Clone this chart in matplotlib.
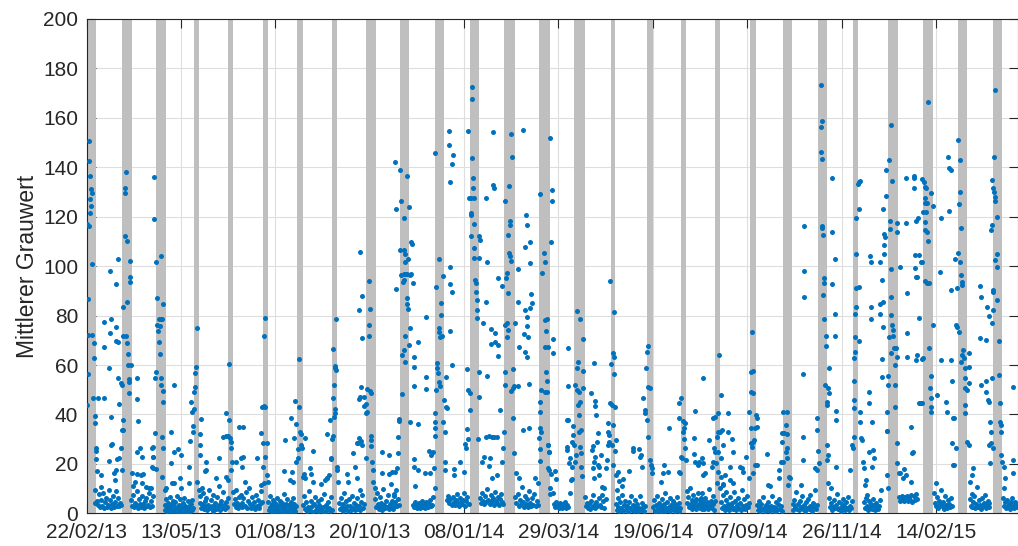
import numpy as np
import matplotlib
matplotlib.use("Agg")
import matplotlib.pyplot as plt

plt.rcParams['font.family'] = ['Liberation Sans', 'DejaVu Sans']
plt.rcParams['font.size'] = 15

# x in days since 22/02/13
tick_days = [0, 80, 160, 240, 320, 400, 480, 560, 640, 720]
tick_labels = ['22/02/13', '13/05/13', '01/08/13', '20/10/13', '08/01/14',
               '29/03/14', '19/06/14', '07/09/14', '26/11/14', '14/02/15']

# shaded periods (start day, end day)
bands = [(-1, 8.3), (30.3, 38.3), (59.2, 67.1), (91.1, 95.3), (119.9, 124.2),
         (149.6, 153.6), (178.4, 183.2), (208.3, 212.5), (236.9, 245.1),
         (265.4, 273.3), (295.3, 303.2), (324.7, 332.9), (354.1, 362.9),
         (383.7, 392.8), (413.4, 422.7), (444.2, 448.1), (475.0, 479.8),
         (503.8, 508.1), (532.6, 537.1), (562.3, 567.1), (590.3, 598.1),
         (619.7, 627.8), (649.3, 653.8), (679.5, 687.5), (708.6, 717.1),
         (738.3, 746.4), (768.2, 776.1)]

# (day, mean grey value)
seg_a = [(1.8,150.8),(1.8,142.7),(3.0,136.5),(4.1,131.1),(4.3,129.5),(3.2,127),(4.1,124.5),(3.2,121.6),
         (0.7,117),(2.4,116.4),(4.9,101),(1.3,86.6),(1.3,72.1),(4.9,72.1),(6.1,69),(6.1,62.7),(1.3,56.4),
         (0.1,43.8),(5.8,46.5),(9.7,46.5),(14.8,46.5),(7.5,39.4),(7.2,36.7),(8.3,26.3),(7.8,25.2),(7.8,22),
         (9.2,17.3),(12,15.5),(19.9,98),(27,102.8),(24.7,92.6),(14.8,77.5),(20.5,78.5),(19.9,73),(25.3,75.4),
         (25.3,69.9),(27,69.5),(15.1,67.3),(19.1,58.8),(27,54.6),(29.8,51.9),(29,52.6),(27.8,44.1),(21,39.1),
         (30.6,33.7),(21,27.6),(21.3,27.9),(29,26.3),(19.1,21.2),(26.1,21.8),(27.5,22.3),(24.7,17.5),
         (23.9,13.5),(23.3,16.2),(30.4,17.5),(33.2,138.1),(32.3,131.8),(32.9,129.7),(32.9,112.3),(34.3,110),
         (37.2,102.2),(36.9,95.7),(37.2,93.7),(34,85.4),(30.9,83.6),(31.2,71.7),(33.5,71.9),(34.3,69),
         (35.2,64.6),(35.2,59.9),(37.7,59.9),(36,54.2),(36.3,53.3),(35.7,48.6),(31.2,37.8),(29.8,33.7),
         (38.3,16.5),(43.1,54.8),(43.1,46.1),(44,37.5),(43.1,25),(45.1,26.3),(47.3,22.9),(43.1,15.9),
         (45.9,15.5),(48.2,15.8),(41.1,12.8),(47.3,12.1),(53,10.1),(55.8,26.3),(56.4,22.9),(55.8,18.6),
         (54.4,10.1),(56.9,135.9),(56.9,119.1),(58.9,101.8),(63.4,104.1),(60,87),(64.8,84.6),(60,76.2),
         (61.4,78.6),(62.9,78.6),(64.3,78.6),(60.6,73.9),(62,75.8),(61.4,69.5),(62.3,64.6),(58.9,57.3),
         (57.8,54.6),(62.9,54.6),(63.4,51.9),(64.8,49.5),(65.1,44.9),(58,32.5),(64.3,30.9),(64.5,26.3),
         (56.6,27),(56.4,22.7),(64,14.8),(56.6,18.5),(58.6,17.9),(71.9,32.8),(74.1,51.9),(74.1,25),
         (77.8,25.9),(80.1,23.6),(71.3,20.2),(87.4,29.4),(87.1,18.9),(72.7,12.1),(74,12.4),(79,14.2),
         (80.4,10.1),(86.9,12.1),(67.1,10.1),(66.5,9.4),(93.4,75.1),(92.5,59.1),(92.2,56.9),(91.7,51),
         (91.1,49.2),(88.8,45.2),(89.1,40.9),(91.1,42.1),(90.3,35.5),(90.3,33),(97.3,38.2),(96.5,32.1),
         (95.9,27.6),(96.2,23.6),(93.9,12.8),(95.3,9.4),(98.2,10.1),(101,20.9),(100.4,17.3),(101.6,17.5),
         (109.5,14.2),(112.3,22.3),(121.1,60.4),(117.9,40.5),(121.1,37.8),(116,31),(117.9,31.4),(119.9,31.4),
         (121.3,30.3),(122.2,29),(122.2,26.3),(123.6,20.9),(122.2,17.5),(118.5,14.8),(120.2,13.5),(127,20.9),
         (130.7,22.3),(129.2,35),
         (7.5,9.5),(8.5,5.0),(9.8,3.2),(10.5,7.8),(11.2,2.4),(12.4,5.5),(13.0,3.0),(14.1,8.2),(14.9,2.2),
         (15.8,4.4),(16.8,6.0),(17.5,2.6),(18.3,3.4),(19.6,5.2),(20.4,2.1),(21.5,3.8),(22.3,7.2),(23.1,2.5),
         (24.2,4.6),(25.0,9.0),(25.8,3.1),(26.9,6.3),(27.6,2.8),(28.3,4.1),(29.2,3.3),(11.9,10.8),(18.8,9.6),
         (6.8,4.0),(37.5,5.2),(38.4,3.0),(39.2,7.6),(40.0,2.4),(40.9,4.3),(41.8,3.3),(42.5,9.1),(43.6,2.2),
         (44.3,5.8),(45.2,3.6),(46.0,2.5),(46.8,7.0),(47.7,3.9),(48.5,2.1),(49.4,4.8),(50.2,6.2),(51.0,2.8),
         (51.9,3.5),(52.8,8.3),(53.6,2.4),(54.5,4.9),(55.5,3.1),(56.2,6.8),(39.8,11.0),(50.6,10.5),
         (66.2,3.5),(66.8,1.2),(67.5,5.8),(68.0,2.4),(68.6,0.6),(69.1,4.0),(69.8,1.6),(70.4,6.5),(70.9,2.9),
         (71.5,0.9),(72.1,3.6),(72.8,1.8),(73.3,5.1),(73.9,0.8),(74.6,2.6),(75.2,4.4),(75.8,1.3),(76.5,7.2),
         (77.0,2.1),(77.6,0.5),(78.3,3.3),(78.9,5.6),(79.5,1.5),(80.2,2.8),(80.8,0.7),(81.4,4.2),(82.1,1.9),
         (82.7,6.0),(83.3,1.0),(83.9,3.1),(84.6,2.2),(85.2,0.6),(85.8,4.8),(86.5,1.7),(87.1,2.9),(87.8,0.9),
         (88.4,3.8),(89.0,1.4),(89.7,5.3),(90.3,2.0),(95.8,4.2),(96.5,6.9),(97.1,2.3),(97.8,3.6),(98.6,8.1),
         (99.3,1.6),(100.1,4.9),(100.8,2.9),(101.6,6.2),(102.3,1.3),(103.1,3.4),(103.8,9.6),(104.5,2.0),
         (105.3,5.4),(106.0,3.0),(106.8,1.1),(107.5,7.3),(108.2,2.5),(109.0,4.1),(109.8,1.8),(110.5,6.4),
         (111.3,2.8),(112.0,11.0),(112.8,3.6),(113.5,1.4),(114.3,5.0),(115.0,2.2),(115.8,8.7),(116.6,3.2),
         (117.3,1.7),(118.1,4.5),(118.9,2.6),(119.6,6.1),(124.0,8.5),(124.8,3.8),(125.5,5.9),(126.3,2.6),
         (127.1,9.6),(127.9,4.1),(128.6,2.1),(129.4,6.6),(130.2,3.3),(131.0,7.4),(131.8,2.7)]

seg_b = [(132.6,22.9),(132.1,18.9),(132.9,34.9),(134,12.8),(144.8,22.3),(148.2,32.4),(149.3,28.3),(149,43.2),
         (150.7,43.6),(151.6,43.2),(150.2,71.9),(151.6,78.9),(153.3,28.6),(149.6,18.9),(151.6,22.9),
         (152.7,15.5),(153.8,12.8),(148.2,11.5),(150.4,12.1),(167.4,17.3),(168.2,29.7),(173,38.4),(177,45.6),
         (175.9,30.6),(177.8,36),(180.1,43.2),(180.4,62.4),(181.2,33),(181.5,32),(179.2,26),(181.5,27.6),
         (182.6,26.3),(185.5,30.3),(177.8,20.9),(179.2,22.3),(183.5,14.8),(184.9,14.2),(184.3,15.8),
         (174.2,16.9),(172.8,13.5),(175,12.8),(192.2,25.2),(189.1,18.2),(190.5,15.8),(192,12.8),(199,11.7),
         (202.4,13.5),(203.5,14.2),(203.8,32.1),(206.1,37.8),(208.3,30.1),(208.9,31.2),(206.9,21.8),
         (207.3,22.3),(204.1,14.2),(205.2,15.5),(209.2,46.5),(209.5,51.9),(210.3,59.7),(210.9,58.7),
         (211.2,57.9),(209.2,66.4),(211.2,78.5),(210.3,42.2),(210.3,40.5),(210,39.1),(212,18.6),(212.3,17.5),
         (213.1,12.8),(220.8,15.8),(221.6,12.8),(225.9,24.3),(227.3,18.9),(229.2,28.5),(229.5,14.2),
         (230.4,28.3),(232.4,29.3),(231.2,30.6),(230.9,46.1),(231.5,47.2),(232.4,51),(235.2,47.2),
         (234.9,43.4),(236.6,44.1),(233.5,27.6),(230.9,82.3),(233.5,87.9),(233.2,70.8),(232.1,105.6),
         (239.4,94.1),(240.5,82.7),(239.4,76.1),(239.4,71.9),(238,50.2),(240,49.5),(240.8,48.8),(237.2,40.5),
         (238,41.1),(241.4,31.3),(241.4,29.7),(240.8,27.2),(237.2,22.3),(242,20.9),(242.5,17.5),(242.8,12.8),
         (244.2,10.1),(250.4,25),(256.4,23.6),(250.7,16.2),(256.1,15.8),(259.2,16.9),
         (133.0,6.0),(134.5,3.1),(135.3,8.8),(136.1,2.3),(136.9,4.9),(137.8,10.4),(138.5,3.6),(139.4,2.0),
         (140.2,6.4),(141.0,3.0),(141.8,4.6),(142.6,1.6),(143.5,7.6),(144.3,2.8),(145.1,5.2),(146.0,2.1),
         (146.8,3.8),(147.6,9.2),(148.6,4.4),(131.4,4.0),(154.0,4.6),(154.6,1.5),(155.2,7.2),(155.8,2.6),
         (156.4,0.8),(157.0,3.9),(157.6,1.9),(158.2,5.5),(158.8,0.6),(159.4,2.9),(160.0,4.3),(160.6,1.2),
         (161.2,6.3),(161.8,2.2),(162.4,0.9),(163.0,3.4),(163.6,5.0),(164.2,1.6),(164.8,2.7),(165.4,0.5),
         (166.0,4.1),(166.6,1.8),(167.2,7.9),(167.8,2.4),(168.4,0.7),(169.0,3.7),(169.6,1.4),(170.2,5.8),
         (170.8,2.1),(171.4,0.9),(172.0,3.2),(172.6,1.5),(173.2,4.7),(173.8,2.5),(174.4,0.8),(175.0,6.1),
         (175.6,1.9),(176.2,3.6),(176.8,1.1),(177.4,2.8),(183.8,3.2),(184.6,7.0),(185.4,1.8),(186.2,4.4),
         (187.0,0.9),(187.8,2.6),(188.6,9.0),(189.4,1.5),(190.2,5.1),(191.0,2.9),(191.8,0.7),(192.6,3.8),
         (193.4,6.4),(194.2,1.3),(195.0,2.4),(195.8,4.9),(196.6,0.8),(197.4,3.2),(198.2,1.9),(199.0,5.7),
         (199.8,1.1),(200.6,2.7),(201.4,7.8),(202.2,0.6),(203.0,3.5),(203.8,1.7),(204.6,4.6),(205.4,2.2),
         (206.2,0.9),(207.0,6.7),(207.8,1.4),(213.8,4.0),(214.6,1.6),(215.4,6.2),(216.2,2.5),(217.0,0.9),
         (217.8,3.7),(218.6,8.4),(219.4,1.9),(220.2,4.8),(221.0,2.8),(221.8,1.0),(222.6,5.9),(223.4,3.1),
         (224.2,1.5),(225.0,7.0),(225.8,2.2),(226.6,4.2),(227.4,1.2),(228.2,3.4),(229.0,6.0),(229.8,1.8),
         (230.6,2.9),(231.4,9.3),(232.2,1.4),(233.0,4.5),(233.8,7.4),(234.6,2.0),(235.4,3.6),(244.8,5.6),
         (245.5,2.4),(246.3,8.3),(247.0,3.6),(247.8,1.8),(248.5,6.4),(249.3,2.9),(250.0,4.2),(250.8,1.5),
         (251.6,9.9),(252.3,3.3),(253.1,2.0),(253.8,5.1),(254.6,2.6),(255.4,7.6),(256.1,1.7),(256.9,3.9),
         (257.7,11.8),(258.4,2.3),(259.2,4.8),(260.0,1.9),(260.8,6.9),(261.5,3.0)]

seg_c = [(261.7,142.3),(262.3,123.1),(262.3,90.8),(266,138.8),(266.2,126.4),(268.8,119.6),(271.9,136.6),
         (273,123.8),(266,106.5),(268.8,106.5),(269.9,104.9),(272.5,102.8),(275.3,109.9),(276.1,109.1),
         (269.6,101.8),(266.4,96.4),(268.8,96.8),(270.2,96.8),(271.6,97),(274.4,96.4),(275.3,96.7),(276.4,93.1),
         (268,93.7),(269.4,94.4),(271.3,87),(271.9,84.7),(272.5,82.7),(274.4,75.1),(270.2,71.7),(273,68.1),
         (269.4,66.1),(269.6,61.4),(267.7,64.1),(280.9,69.2),(277.3,63.1),(277.5,59.3),(277.8,51.5),
         (287.7,79.6),(288,55.3),(288,50.3),(267.4,48.1),(264.8,38.2),(265.1,37.5),(263.7,30.7),(264,24.4),
         (263.1,18.2),(261.2,16.9),(274.4,36.8),(280.9,36),(277.8,22),(277.3,18.9),(280.9,17.5),(278.7,11.2),
         (287.1,16.2),(291.4,16.2),(294.2,18.2),(290.5,25.2),(292.2,23.6),(293.4,24.7),(295.1,40.5),
         (295.1,37.1),(295.1,34.4),(295.1,31.3),(295.6,145.6),(295.9,91.6),(296.5,49.9),(297,60.7),
         (297.3,58.7),(297.9,56.6),(298.5,53.3),(299.9,51.7),(298.7,102.8),(298.5,73.5),(299,74.8),
         (299.9,71.5),(301.3,71.9),(300.7,85),(300.7,80.2),(301.8,96),(295.1,10.1),(303.2,45.9),(304.4,43.2),
         (305.5,42.5),(302.1,37.1),(303.5,33),(304.1,20.9),(304.1,17.5),(304.7,55),(306.9,149),(307.2,154.8),
         (307.8,134.2),(310.6,145),(309.7,141.2),(308.3,99.8),(307.8,92.6),(310,89.7),(308.1,73.9),(310,60),
         (311.2,17.8),(311.2,15.5),(316.8,20.9),(319.6,16.9),(323.6,154.7),(326.7,172.4),(327,167.8),
         (327,143.8),(327.8,135.7),(327.8,131.8),(328.4,127.6),(323.9,127.4),(326.1,127.6),(325.8,121.4),
         (325.8,120.6),(328.4,117.1),(325.8,112.2),(328.7,107.5),(332.9,112.2),(333.2,110.6),(328.7,103.2),
         (332.3,103.4),(329.5,94.4),(329.8,93.1),(329.8,89.4),(331,86.2),(331,82.4),(331.2,78.9),(322.2,58.3),
         (323.6,49.9),(325.3,48.6),(325,41.8),(332.3,57),(332.3,46.9),(322.2,34),(323.3,30.1),(332.1,30.1),
         (320.8,27.9),(321.6,26.6),(339.7,55.6),(336,76.9),(338.8,85.4),(338.3,127.7),(344.5,154.4),
         (344.8,132.8),(345.1,131.8),(339.4,101.8),(342.8,74.4),(346.5,72.8),(346.5,69.5),(348.4,68.1),
         (348.7,63.6),(342.5,68.6),(348.7,95.3),(352.1,92.1),(350.7,41.8),(345.1,31),(347.9,31),(338.8,31),
         (340.8,31.2),(343.6,30.8),(336.6,22.9),(335.2,20.9),(341.7,22.3),(341.4,19.3),(348.2,15.5),
         (343.6,14.2),(352.7,26.3),(352.1,20.9),(353.5,33),(360,153.5),(360.3,144.3),(357.8,132.6),
         (354.4,126.5),(359.2,118.4),(358.6,116.5),(356.9,112.5),(357.8,105.5),(359.2,104.2),(359.7,102.1),
         (356.4,97.4),(355.8,95.1),(357.2,89),(355,76.2),(356.4,76.9),(356.9,74.2),(356.4,71.2),(361.2,58.3),
         (355,57.3),(354.4,51.9),(360,49.6),(361.5,50.6),(362.6,51.5),(365.4,51.7),(361.2,38.7),(362.6,24.3),
         (364,16.5),(366.2,14.2),(369.9,155.1),(365.7,98.9),(365.4,85.6),(363.1,77),(366.2,67.4),(371.9,65.4),
         (373,63.4),(369.6,33.7),(374.7,34.4),(374.7,52.2),(371,72.6),(373.3,75.9),(374.2,71.5),(371.3,82.3),
         (373,79.3),(377,88.6),(372.2,120.7),(373.3,116.7),(376.1,109.9),(371.9,107.8),(375.9,101.3),
         (376.1,82.9),(377.5,85),(384,129.1),(392.8,152),(387.4,105.2),(388.3,101.5),(386,97.1),(388.3,78.1),
         (388.8,67.4),(385.2,49.9),(388.8,49.2),(384.6,45.2),(384,40.9),(384,34.4),(385.5,33),(383.2,30.3),
         (384,26),(384.6,21.3),(382.3,12.1),(380.4,14.2),(391.4,27.6),(391.7,25),(391.1,18.2),
         (276.5,3.4),(277.3,2.5),(278.1,4.6),(278.9,3.0),(279.7,2.2),(280.5,3.8),(281.3,2.7),(282.1,4.1),
         (282.9,2.3),(283.7,3.2),(284.5,4.8),(285.3,2.6),(286.1,3.5),(286.9,2.1),(287.7,4.4),(288.5,3.0),
         (289.3,2.4),(290.1,3.7),(290.9,5.3),(291.7,2.8),(292.5,3.4),(293.3,6.4),(305.8,5.2),(306.7,7.0),
         (307.6,4.1),(308.5,5.9),(309.4,3.5),(310.3,6.6),(311.2,4.6),(312.1,3.3),(313.0,5.5),(313.9,7.7),
         (314.8,4.0),(315.7,2.8),(316.6,6.1),(317.5,4.4),(318.4,3.6),(319.3,5.2),(320.2,8.1),(321.1,3.1),
         (322.0,4.8),(322.9,6.5),(323.8,3.9),(333.5,6.1),(334.4,4.2),(335.3,8.3),(336.2,5.0),(337.1,3.8),
         (338.0,6.9),(338.9,4.6),(339.8,9.8),(340.7,5.5),(341.6,3.6),(342.5,7.4),(343.4,4.8),(344.3,6.2),
         (345.2,3.4),(346.1,8.8),(347.0,5.1),(347.9,4.0),(348.8,6.7),(349.7,3.2),(350.6,5.9),(351.5,7.8),
         (352.4,4.5),(353.3,3.7),(363.5,6.6),(364.4,4.1),(365.3,8.0),(366.2,2.9),(367.1,5.3),(368.0,3.6),
         (368.9,10.5),(369.8,4.5),(370.7,2.4),(371.6,7.1),(372.5,3.9),(373.4,5.6),(374.3,2.7),(375.2,9.0),
         (376.1,4.2),(377.0,3.0),(377.9,6.2),(378.8,3.5),(379.7,7.9),(380.6,2.8),(381.5,4.9),(382.4,3.4),
         (259.8,3.6),(260.6,7.9),(261.4,4.4),(262.2,9.5),(263.0,2.8),(263.8,5.6),(264.6,3.2)]

seg_d = [(394.5,131),(394.2,126.4),(393.9,109.9),(390,78.6),(389.4,73.8),(390.8,67.2),(395.1,70.7),
         (395.1,64.7),(389.4,57.3),(390,53.7),(390.2,49.2),(390.8,27.6),(392.2,25),(391.7,17.5),(393.6,15.8),
         (397.3,17.3),(397.9,13.9),(392.8,10.1),(392.8,7.7),(395.1,8.1),(407.8,67),(408,51.7),(406.9,37.8),
         (408.3,37.8),(406.9,27),(406.9,25.6),(409.7,22.3),(409.2,20.2),(411.4,18.6),(411.4,29),(412,35.3),
         (412.6,31.7),(409.7,8.4),(410.6,13.5),(411.4,13.8),(413.4,27.6),(414.3,51.9),(415.4,49.9),(415.9,82),
         (417.9,78.6),(416.2,61.4),(415.4,58.7),(417.6,49.2),(418.5,45.2),(417.1,39.8),(416.8,43.8),(417.4,33),
         (419.3,33.7),(418.5,27),(419.1,24.3),(414.3,20.9),(414.8,23.6),(419.1,18.9),(419.9,15.1),(421,70.5),
         (420.5,57.7),(421,50.6),(427.8,48.6),(430.9,45.6),(431.2,43.6),(432.1,39.8),(430.1,61),(429,27.4),
         (428.1,25.6),(433.2,32.4),(432.6,29),(429,18.2),(430.4,20.9),(433.2,19.6),(431.2,22.9),(429,7.4),
         (430.4,14.2),(434,18.6),(434.6,15.5),(436,23.6),(436.9,10.8),(436.9,7.4),(438.8,10.1),(440.2,18.2),
         (440.8,21.6),(442.2,36.4),(441.7,33),(443.1,31.7),(442.8,29),(443.9,94.1),(446.7,81.6),(444.5,60.3),
         (446.5,64.7),(446.7,63.2),(447.3,56.2),(443.6,44.5),(445.3,43.8),(447.9,43.2),(445.9,35.7),
         (445.3,27.6),(448.4,29.7),(447.6,25.2),(441.9,27.6),(445.9,19.6),(448.7,15.5),(450.1,16.6),
         (451.5,13.1),(449.6,9.4),(454.9,13.9),(453.5,11.1),(460,17.1),(463.4,26.3),(462.8,25.2),(468.5,26),
         (469.9,23.6),(469.1,22.9),(470.8,18.9),(471.9,46.5),(473,41.8),(473.6,40.7),(475,37.8),(474.1,58.9),
         (475,65.4),(475.6,67.8),(475.6,51.2),(475.6,31),(477.2,50.6),(478.4,19.6),(479.2,18.2),(477.8,21.6),
         (479.2,16.2),(486.9,12.8),(488.3,16.2),(489.7,19.6),(493.1,16.9),(493.4,34.7),(501.8,44.8),
         (503.8,46.8),(502.4,38.4),(505.8,37.4),(507.5,36.4),(506.1,34.4),(505.2,33),(506.6,29.9),(507.5,26.3),
         (503.8,22.9),(504.7,22.3),(508,21.6),(502.4,16.9),(503.2,16.2),(515.7,41.5),(514.5,30.3),(515.1,23.9),
         (515.9,20.9),(517.9,19.6),(518.8,20.9),(522.4,54.9),
         (396.2,3.6),(397.0,2.4),(397.8,4.4),(398.6,2.8),(399.4,3.3),(400.2,2.2),(401.0,4.0),(401.8,2.6),
         (402.6,3.1),(403.4,2.0),(404.2,3.7),(405.0,2.9),(405.8,4.6),(406.6,2.3),(407.4,3.4),(408.2,2.7),
         (422.8,6.4),(423.6,2.8),(424.4,4.3),(425.2,2.1),(426.0,3.6),(426.8,1.7),(427.6,5.1),(428.4,2.5),
         (429.8,3.2),(431.0,2.0),(432.0,4.6),(433.0,2.9),(434.0,6.0),(435.0,3.3),(436.0,2.4),(437.8,4.8),
         (439.0,2.2),(440.0,5.6),(448.5,3.8),(449.3,1.4),(450.1,6.0),(450.9,2.4),(451.7,0.8),(452.5,4.4),
         (453.3,2.0),(454.1,7.6),(454.9,1.1),(455.7,3.2),(456.5,5.1),(457.3,1.6),(458.1,2.8),(458.9,0.7),
         (459.7,4.6),(460.5,2.2),(461.3,6.8),(462.1,1.3),(462.9,3.5),(463.7,0.9),(464.5,2.6),(465.3,5.4),
         (466.1,1.8),(466.9,3.9),(467.7,0.8),(468.5,2.3),(469.3,7.2),(470.1,1.5),(470.9,4.0),(471.7,2.4),
         (472.5,1.0),(473.3,3.0),(480.2,2.5),(480.9,5.3),(481.6,1.1),(482.3,3.4),(483.0,0.7),(483.7,7.0),
         (484.4,2.0),(485.1,4.2),(485.8,1.4),(486.5,2.9),(487.2,0.6),(487.9,5.8),(488.6,1.8),(489.3,3.6),
         (490.0,1.0),(490.7,8.2),(491.4,2.3),(492.1,4.6),(492.8,1.2),(493.5,2.7),(494.2,6.3),(494.9,0.8),
         (495.6,3.3),(496.3,1.6),(497.0,4.9),(497.7,2.1),(498.4,0.9),(499.1,3.8),(499.8,1.5),(500.5,6.6),
         (501.2,2.6),(501.9,1.1),(502.6,4.1),(503.3,2.0),(508.6,8.9),(509.3,4.2),(510.0,6.6),(510.7,2.6),
         (511.4,10.4),(512.1,3.6),(512.8,5.4),(513.5,1.9),(514.2,7.3),(514.9,3.0),(515.6,4.5),(516.3,1.6),
         (517.0,5.9),(517.7,2.9),(518.4,8.1),(519.1,3.8),(519.8,2.2),(520.5,6.0),(521.2,3.4),(521.9,1.8),
         (522.6,4.7)]

seg_e = [(521.3,22.3),(522.7,20.2),(522.2,15.5),(524.1,16.2),(527.8,29.7),(530.6,20.6),(529.8,18.9),
         (531.2,38.4),(532.6,39.1),(532,26.3),(532.6,25),(535.4,40.5),(536.3,64.1),(537.7,47.9),(534.9,33),
         (536.9,33),(538.3,33.7),(534,31),(535.4,25),(537.4,22.3),(539.1,27.6),(533.5,20.2),(534,12.1),
         (535.4,16.9),(537.4,14.8),(539.1,11.5),(536.9,10.1),(543.9,40.5),(543.9,33),(547.3,29.9),(548.1,24.7),
         (545.3,18.6),(539.7,11.7),(541.1,15.5),(542,8.8),(545.3,13.5),(548.1,12.1),(553.8,18.9),(555.2,18.2),
         (556.6,16.9),(558.9,22.9),(561.4,41.1),(563.1,49.2),(565.1,48.6),(563.1,57),(565.1,57.6),(564.3,73.5),
         (562.8,34.4),(566.5,34.4),(567.9,35),(567.1,39.8),(568.5,38.4),(562.8,28.3),(565.1,29),(563.7,27),
         (565.9,29.7),(566.5,19.6),(567.9,19.6),(565.1,16.2),(561.7,14.2),(577,23.9),(577.8,11.5),(579.2,11.1),
         (586.6,17.5),(587.1,14.2),(589.1,29),(588.5,20.9),(590.5,20.9),(589.9,32.6),(591.4,32.4),(590.5,40.9),
         (593.9,40.9),(592.8,35.7),(593.9,32.1),(593.9,26.3),(592.5,25),(593.9,22.3),(595.6,14.8),(596.2,14.2),
         (594.8,11.5),(606.9,30.7),(606.9,21.6),(606,11.5),(608,116.4),(608.3,98),(608.3,87.5),(607.5,56.4),
         (618.8,38.7),(619.3,33.7),(620.2,25.2),(621,20.2),(617.4,18.2),(619.3,17.5),(622.4,173.3),
         (623.6,158.7),(622.4,156.2),(622.4,146.3),(623.6,143.4),(623,116.4),(623.8,115.6),(624.4,112.6),
         (625.3,95.3),(625.3,93.1),(624.4,88.3),(624.9,78.6),(626.4,71.9),(626.4,67.8),(629.2,58.7),
         (625.8,51.9),(628.6,50.8),(629.2,48.6),(627.2,45.2),(627.5,43.8),(632.1,135.8),(632.1,113.7),
         (632.1,92.7),(634.3,102.9),(634.3,80.6),(634.3,71.7),(635.2,41.5),(635.2,37.8),(627.2,27.6),
         (628.1,23.6),(627.2,21.6),(628.6,12.1),(630.6,10.1),(635.2,18.9),(647,17.5),(649.3,26.3),(649,27.6),
         (650.1,31),(650.1,45.9),(650.1,42.5),(650.1,53.7),(650.7,62.7),(651.3,65.4),(651.3,71.5),(651.3,80.5),
         (651.9,83.5),(652.6,91.3),(652.6,104.8),(652,119.6),(653.5,133.1),
         (520.4,5.4),(521.0,2.6),(521.8,8.2),(522.6,3.4),(523.4,1.6),(524.2,6.1),(525.0,2.9),(525.8,4.4),
         (526.6,1.9),(527.4,9.7),(528.2,3.2),(529.0,5.0),(529.8,2.3),(530.6,7.0),(531.4,3.8),(532.2,1.5),
         (533.0,4.8),(538.0,4.6),(538.8,2.0),(539.6,7.4),(540.4,3.0),(541.2,1.2),(542.0,5.4),(542.8,2.4),
         (543.6,3.6),(544.4,1.5),(545.2,6.6),(546.0,2.8),(546.8,4.1),(547.6,1.8),(548.4,8.8),(549.2,2.2),
         (550.0,5.0),(550.8,1.3),(551.6,3.2),(552.4,6.2),(553.2,2.1),(554.0,4.0),(554.8,1.4),(555.6,9.5),
         (556.4,3.0),(557.2,5.6),(558.0,1.9),(558.8,3.4),(559.6,7.1),(560.4,2.6),(561.2,4.3),(568.0,3.2),
         (568.8,1.3),(569.6,5.1),(570.4,2.4),(571.2,0.8),(572.0,3.9),(572.8,1.7),(573.6,6.4),(574.4,2.0),
         (575.2,0.9),(576.0,3.4),(576.8,1.5),(577.6,4.7),(578.4,2.6),(579.2,1.0),(580.0,3.0),(580.8,7.2),
         (581.6,1.6),(582.4,2.7),(583.2,0.7),(584.0,4.4),(584.8,2.1),(585.6,1.2),(586.4,3.6),(587.2,5.6),
         (588.0,1.8),(588.8,2.9),(589.6,1.1),(598.4,3.6),(599.2,1.4),(600.0,5.5),(600.8,2.6),(601.6,8.6),
         (602.4,1.9),(603.2,3.8),(604.0,1.2),(604.8,4.9),(605.6,2.4),(606.4,6.9),(607.2,1.6),(608.0,3.2),
         (608.8,0.9),(609.6,4.4),(610.4,2.1),(611.2,5.8),(612.0,1.7),(612.8,3.0),(613.6,7.6),(614.4,2.3),
         (615.2,1.1),(616.0,4.1),(616.8,2.7),(617.6,9.6),(618.4,1.8),(619.2,3.5),(629.6,6.2),(630.4,2.6),
         (631.2,4.0),(632.0,1.4),(632.9,2.7),(633.6,5.4),(634.4,2.0),(635.2,3.4),(636.0,8.0),(636.8,1.6),
         (637.6,4.6),(638.4,2.3),(639.2,1.0),(640.0,3.6),(640.8,5.8),(641.6,1.8),(642.4,2.9),(643.2,1.2),
         (644.0,4.4),(644.8,2.2),(645.6,6.7),(646.4,1.5),(647.2,3.1),(648.0,2.0),(648.8,4.9)]

seg_f = [(654.4,134.2),(655.2,134.5),(654.6,123.1),(654.4,91.7),(654.6,69.7),(656,41.1),(656,37.1),
         (656.6,30.6),(657.5,29.7),(658.3,20.9),(658.9,18.2),(660.3,13.5),(659.4,11.5),(661.7,7.4),(663.1,49.2),
         (663.1,44.8),(665.9,37.1),(663.1,25),(666.8,25.6),(667.3,22.3),(665.9,18.9),(664,104.2),(664.5,101.5),
         (664.5,83.5),(665.1,78.6),(672.2,101.5),(672.2,84.8),(672.2,80.8),(674.1,94.3),(674.7,75.3),
         (674.4,62.3),(674.1,55.3),(673,9.4),(675.3,123.1),(675.8,113),(676.4,111.6),(675.8,108.6),(675.8,105),
         (677.2,138.8),(677.5,128.3),(675.3,85.6),(678.6,41.1),(678.1,33.3),(678.6,33.3),(679.5,55.6),
         (679.5,51.9),(679.8,71.5),(680.1,143.1),(680.6,118.4),(680.6,115.2),(681.5,98.9),(682,157.1),
         (682.3,134.6),(682,87.7),(681.5,80.2),(682.9,76.2),(683.7,74.2),(683.7,71.7),(682,64.7),(684.3,66.8),
         (685.1,60),(684.9,51.9),(685.1,43.2),(678.6,15.5),(679.5,10.1),(687.1,28.6),(687.1,20.2),(685.7,66.8),
         (686.6,63.4),(686.6,117.6),(686.6,113.8),(688.5,16.2),(689.9,16.2),(692.2,14.2),(692.8,17.8),
         (694.2,15.5),(689.1,99.8),(694.2,135.5),(694.5,117.5),(695,89),(695,73.1),(695.6,63.4),(698.4,35.1),
         (699.8,24.3),(700.4,25),(699,12.8),(701.2,136.5),(701.2,135.5),(701.2,131.5),(702.1,104.5),
         (702.1,99.1),(702.7,95.8),(704.1,95.5),(703,118.4),(704.7,119.6),(705.5,104.5),(703.5,64.1),(702.7,62),
         (705.5,79.2),(705.5,44.5),(706.9,44.5),(708.3,44.5),(706.9,101.5),(708.3,101.8),(710.3,94.1),
         (708.3,135.3),(709.7,133.9),(710.6,132.2),(711.4,131.5),(711.1,127.7),(710.3,125.4),(712,125.7),
         (711.7,122),(709.2,122),(710.6,118),(711.1,114.6),(712.5,114),(713.1,110.2),(708.3,62.4),(709.2,62.7),
         (713.1,166.3),(712.5,93.1),(713.9,93.1),(713.9,67),(715.4,55.7),(714.8,50.6),(715.4,46.5),(716,43.2),
         (716,41.1),(717.1,76.2),(716,129.7),(717.1,124.5),(721,47.9),(723.9,119.4),(723.3,97.8),(723.9,62),
         (728.1,44.9),(729.5,41.1),(730.1,144.3),(730.9,139.6),(732.3,138.9),(730.9,122.5),(732.3,90.4),
         (732.3,62),(733.2,53.5),(734.3,38.7),(735.1,38.7),(733.7,28.3),(734.6,19.6),(735.1,19.6),(736.6,26.3),
         (735.7,102.8),(736.6,76.2),(737.4,75.5),(738.8,151),(740.2,143),(739.4,125),(740.2,130.1),
         (740.8,115.6),(738.8,105.2),(740.2,101.8),(741.6,96.4),(742.2,93.7),(742.2,92.4),(738,91),(739.4,73.5),
         (740.8,61.4),(742.2,64.1),(743,66.1),(743.6,62.7),(744.5,58.7),(744.5,54.6),(744.5,50.6),(745.9,49.9),
         (747.9,64.7),(747.9,59.3),(747.9,52.6),(745,43.8),(745,40.5),(746.4,29),(747.9,27.6),(751.5,18.2),
         (750.7,15.5),(748.7,12.8),(757.7,92.1),(758.3,87.7),(763.4,83.6),(764.8,79.8),(757.7,71.1),
         (762.8,70.1),(758.3,51.9),(762,53.7),(762.8,49.2),(763.9,45.9),(764.8,45.2),(765.4,36.8),(766.2,33),
         (766.8,28.3),(764.8,27.6),(765.7,20.2),(767.6,54.6),(768.5,26.3),(767.1,134.9),(768.5,131.5),
         (769,130.1),(769.9,128.1),(770.4,126.4),(771.9,120),(766.8,114.6),(767.6,116.6),(768.2,90.4),
         (768.5,89.7),(768.5,82.3),(767.6,76.9),(771.3,86.3),(770.4,102.5),(771.3,99.8),(771.9,104.9),
         (770.4,171.3),(769,144.3),(773.3,69.7),(773.3,56),(773.9,44.5),(773.9,37.1),(774.7,35.7),(774.7,33),
         (774.7,23.6),(776.1,20.9),(777.5,18.9),(778.9,14.2),(777.5,10.1),(785.4,51.2),(785.4,21.6),
         (785.4,16.2),
         (659.0,4.4),(659.8,2.0),(660.6,6.2),(661.4,3.0),(662.2,1.4),(663.0,4.8),(663.8,2.5),(664.6,3.6),
         (665.4,1.6),(666.2,5.7),(667.0,2.2),(667.8,3.3),(668.6,1.2),(669.4,4.0),(670.2,2.6),(671.0,1.7),
         (671.8,3.1),(672.6,5.2),(689.0,6.4),(689.9,5.0),(690.8,7.2),(691.7,5.6),(692.6,4.8),(693.5,6.6),
         (694.4,5.3),(695.3,7.0),(696.2,4.9),(697.1,6.1),(698.0,5.4),(699.0,7.5),(700.0,4.6),(701.0,6.8),
         (702.0,5.2),(703.0,7.8),(704.0,5.9),(718.0,8.1),(718.8,4.2),(719.6,12.4),(720.4,3.1),(721.2,6.6),
         (722.0,2.2),(722.8,5.0),(723.6,3.6),(724.4,9.4),(725.2,2.8),(726.0,4.6),(726.8,1.9),(727.6,7.1),
         (728.4,3.2),(729.2,2.1),(730.0,5.4),(730.8,3.9),(731.6,2.4),(732.4,6.1),(733.2,3.0),(748.5,5.6),
         (749.3,3.1),(750.1,8.0),(750.9,2.4),(751.7,4.6),(752.5,6.9),(753.3,2.0),(754.1,3.8),(754.9,10.6),
         (755.7,2.7),(756.5,5.3),(757.3,3.4),(758.1,1.8),(758.9,6.3),(759.7,2.9),(760.5,4.2),(761.3,7.6),
         (762.1,2.3),(762.9,3.6),(763.7,5.0),(764.5,2.5),(765.3,4.0),(776.8,6.0),(777.6,3.1),(778.4,4.7),
         (779.2,2.2),(780.0,5.4),(780.8,2.8),(781.6,3.9),(782.4,1.9),(783.2,4.4),(784.0,2.6),(784.8,6.2),
         (785.6,3.0),(786.4,2.0),(787.2,4.5),(788.0,3.2),(788.8,2.4)]

pts = np.array(seg_a + seg_b + seg_c + seg_d + seg_e + seg_f)
days, grey = pts[:, 0], pts[:, 1]

txt = '#262626'
fig = plt.figure(figsize=(10.18, 5.46), dpi=100)
ax = fig.add_axes([86.5 / 1018, 32.7 / 546, 931.5 / 1018, 494.3 / 546])

for b0, b1 in bands:
    ax.axvspan(b0, b1, color='#bfbfbf', lw=0, zorder=1)

ax.plot(days, grey, 'o', ms=3.6, mew=0, color='#0072bd', zorder=3)

ax.set_xlim(0, 789.5)
ax.set_ylim(0, 200)
ax.set_xticks(tick_days)
ax.set_xticklabels(tick_labels)
ax.set_yticks(np.arange(0, 201, 20))
ax.set_axisbelow(True)
ax.grid(True, color='#dedede', lw=0.8)
ax.tick_params(direction='in', length=6.5, width=0.8, colors=txt,
               top=True, right=True, labelsize=15)
ax.tick_params(axis='x', pad=7)
ax.tick_params(axis='y', pad=6)
for s in ax.spines.values():
    s.set_color(txt)
    s.set_linewidth(0.8)
ax.set_ylabel('Mittlerer Grauwert', color=txt, fontsize=16.5, labelpad=3)

fig.savefig('out.png', dpi=100)
